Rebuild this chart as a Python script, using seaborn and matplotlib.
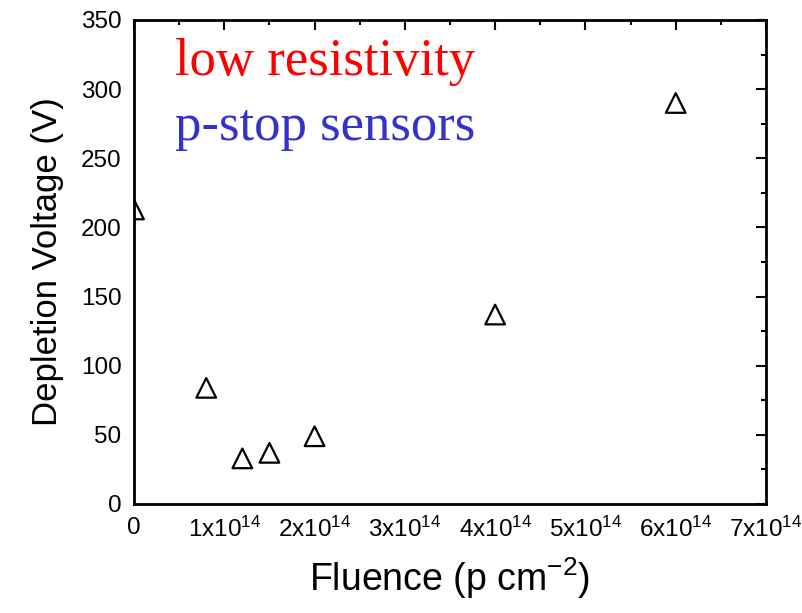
import matplotlib
matplotlib.use("Agg")
import matplotlib.pyplot as plt
import seaborn as sns
import numpy as np
import pandas as pd
from matplotlib.ticker import MultipleLocator, FixedLocator

# Data
fluence = [0.0, 0.8e14, 1.2e14, 1.5e14, 2.0e14, 4.0e14, 6.0e14]
depletion_voltage = [213, 84, 33, 37, 49, 137, 290]
x_tick_values = [0, 1e14, 2e14, 3e14, 4e14, 5e14, 6e14, 7e14]
x_tick_labels = ["0", r"$\mathregular{1x10^{14}}$", r"$\mathregular{2x10^{14}}$",
                 r"$\mathregular{3x10^{14}}$", r"$\mathregular{4x10^{14}}$",
                 r"$\mathregular{5x10^{14}}$", r"$\mathregular{6x10^{14}}$",
                 r"$\mathregular{7x10^{14}}$"]
y_tick_values = [0, 50, 100, 150, 200, 250, 300, 350]

sns.set_theme(style="white")
plt.rcParams["font.family"] = ["Liberation Sans", "DejaVu Sans"]
plt.rcParams["mathtext.fontset"] = "custom"
plt.rcParams["mathtext.rm"] = "Liberation Sans"
plt.rcParams["text.color"] = "black"
plt.rcParams["axes.labelcolor"] = "black"

df = pd.DataFrame({"fluence": fluence, "voltage": depletion_voltage})

fig = plt.figure(figsize=(8.02, 6.13), dpi=100)
ax = fig.add_axes([134/802, 1-504/613, (766-134)/802, (504-20)/613])

sns.scatterplot(data=df, x="fluence", y="voltage", ax=ax, marker="^", s=200,
                facecolors="none", edgecolor="black", linewidth=1.6, legend=False)

ax.set_xlim(0, 7e14)
ax.set_ylim(0, 350)
ax.xaxis.set_major_locator(FixedLocator(x_tick_values))
ax.set_xticklabels(x_tick_labels)
ax.xaxis.set_minor_locator(MultipleLocator(0.5e14))
ax.yaxis.set_major_locator(FixedLocator(y_tick_values))
ax.yaxis.set_minor_locator(MultipleLocator(25))

ax.tick_params(which="both", direction="in", top=True, right=True, width=1.5,
               colors="black", labelcolor="black")
ax.tick_params(which="major", length=7, labelsize=17.5, pad=9)
ax.tick_params(which="minor", length=3.5)
for sp in ax.spines.values():
    sp.set_linewidth(2)
    sp.set_color("black")

ax.set_xlabel(r"Fluence (p cm$^{\mathregular{-2}}$)", fontsize=27, labelpad=10,
              color="black")
ax.set_ylabel("Depletion Voltage (V)", fontsize=25, labelpad=12, color="black")

ax.text(0.065, 0.886, "low resistivity", transform=ax.transAxes,
        color="#ff0000", fontsize=38, family="Liberation Serif", va="baseline")
ax.text(0.065, 0.752, "p-stop sensors", transform=ax.transAxes,
        color="#3333cc", fontsize=38, family="Liberation Serif", va="baseline")

fig.savefig("out.png", dpi=100)
